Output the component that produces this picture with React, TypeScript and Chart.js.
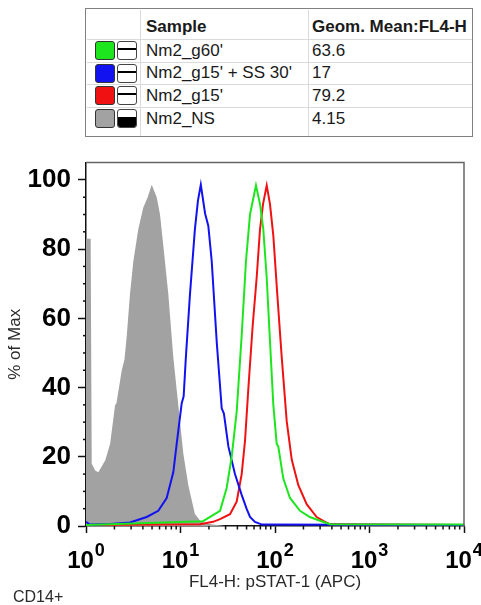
import React, { useEffect, useRef } from 'react';
import { Chart, registerables } from 'chart.js';

Chart.register(...registerables);

const FONT = "'Liberation Sans', Arial, Helvetica, sans-serif";

// ---- legend table data ----
const sampleNames = ["Nm2_g60'", "Nm2_g15' + SS 30'", "Nm2_g15'", 'Nm2_NS'];
const geomMeans = ['63.6', '17', '79.2', '4.15'];
const sampleColors = ['#1ee61e', '#1212f0', '#f01212', '#a2a2a2'];
const sampleFilled = [false, false, false, true];

// ---- axis ticks ----
const xMajorTicks = [1, 10, 100, 1000, 10000];
const yTickLabels = [0, 20, 40, 60, 80, 100];
const yMinorStep = 5;

// ---- histogram series (x = FL4-H intensity, y = % of max) ----
const g60X = [1, 17.3, 26.2, 30.8, 34.8, 39.3, 44.4, 49.3, 54.4, 62.9, 69.4, 75.2, 81.7, 88.5, 96.0, 104.2, 108.3, 122.4, 144.1, 184, 234, 299, 382, 10000];
const g60Y = [0.3, 1.4, 4.4, 11.0, 20, 33, 55, 76.5, 90, 98.4, 93, 85.7, 71.8, 53.4, 35, 23.8, 23, 13.7, 8.1, 4.4, 2.6, 1.5, 0.5, 0.4];

const ss30X = [1, 1.1, 1.8, 2.92, 4.39, 5.82, 7.14, 8.39, 9.12, 10.3, 10.8, 11.4, 12.6, 14.2, 15.3, 16.4, 18.2, 19.7, 21.4, 24.2, 27.3, 28.8, 32.1, 37.7, 44.4, 50.0, 54.4, 61.4, 72.8, 10000];
const ss30Y = [1.2, 0.4, 0.6, 1.0, 2.6, 4.4, 8.1, 15.5, 23.8, 35.5, 37.5, 48.8, 67, 85.7, 94, 98.6, 90.3, 86.7, 76.5, 53, 34, 32.5, 23, 15, 9, 5, 2.6, 1.2, 0.4, 0.3];

const g15X = [1, 16.1, 22.1, 26.2, 33.4, 39.3, 44.4, 48.2, 52.2, 58.1, 64.0, 69.4, 74.7, 81.7, 88.5, 96.0, 105.7, 117.8, 133, 150.3, 176.6, 216.3, 276, 324, 382, 10000];
const g15Y = [0.3, 0.5, 1.2, 2.0, 3.4, 7.0, 15.0, 24.7, 39.6, 58, 71.8, 85.7, 93, 98.4, 93, 83.9, 67, 48.8, 30.3, 19.2, 11.8, 6.3, 2.6, 1.5, 0.5, 0.3];

const nsX = [1, 1.12, 1.15, 1.25, 1.35, 1.6, 1.8, 2.03, 2.1, 2.39, 2.55, 2.7, 2.92, 3.17, 3.57, 4.04, 4.5, 4.96, 5.6, 6.07, 6.58, 7.43, 8.39, 9.48, 10.7, 12.1, 14.2, 16.1, 18, 22, 30, 10000];
const nsY = [83, 83, 18, 16, 15.5, 19, 23.8, 34.9, 35.5, 45, 48, 55, 67, 76.5, 85.7, 92, 95, 98.6, 95, 90, 81, 67, 48.8, 34.9, 21, 11.8, 3.5, 1.6, 0.8, 0.4, 0, 0];

const seriesX = [g60X, ss30X, g15X, nsX];
const seriesY = [g60Y, ss30Y, g15Y, nsY];

const decorPlugin = {
  id: 'decor',
  afterDraw(chart: any) {
    const { ctx, chartArea: a, scales } = chart;
    const xs = scales.x;
    const ys = scales.y;
    ctx.save();
    // top and right frame
    ctx.strokeStyle = '#666';
    ctx.lineWidth = 1.5;
    ctx.beginPath();
    ctx.moveTo(a.left, a.top);
    ctx.lineTo(a.right, a.top);
    ctx.lineTo(a.right, a.bottom);
    ctx.stroke();
    // minor x ticks
    ctx.strokeStyle = '#111';
    ctx.lineWidth = 1.5;
    xs.ticks.forEach((t: any) => {
      if (!t.major) {
        const px = xs.getPixelForValue(t.value);
        ctx.beginPath();
        ctx.moveTo(px, a.bottom);
        ctx.lineTo(px, a.bottom + 3.5);
        ctx.stroke();
      }
    });
    // minor y ticks
    const yMax = yTickLabels[yTickLabels.length - 1];
    for (let v = yTickLabels[0]; v <= yMax; v += yMinorStep) {
      if (yTickLabels.indexOf(v) >= 0) continue;
      const py = ys.getPixelForValue(v);
      ctx.beginPath();
      ctx.moveTo(a.left - 3, py);
      ctx.lineTo(a.left, py);
      ctx.stroke();
    }
    // x tick labels 10^n
    ctx.fillStyle = '#000';
    ctx.textBaseline = 'alphabetic';
    ctx.textAlign = 'left';
    xMajorTicks.forEach((v) => {
      const px = xs.getPixelForValue(v);
      const exp = String(Math.round(Math.log10(v)));
      ctx.font = `bold 24px ${FONT}`;
      const w1 = ctx.measureText('10').width;
      ctx.font = `bold 18px ${FONT}`;
      const w2 = ctx.measureText(exp).width;
      const x0 = px - (w1 + w2 + 1) / 2;
      const baseY = a.bottom + 42;
      ctx.font = `bold 24px ${FONT}`;
      ctx.fillText('10', x0, baseY);
      ctx.font = `bold 18px ${FONT}`;
      ctx.fillText(exp, x0 + w1 + 1, baseY - 12);
    });
    ctx.restore();
  },
};

function ChartCanvas() {
  const ref = useRef<HTMLCanvasElement | null>(null);
  useEffect(() => {
    if (!ref.current) return;
    Chart.defaults.font.family = FONT;
    const datasets = sampleNames.map((name, i) => ({
      label: name,
      data: seriesX[i].map((x, j) => ({ x, y: seriesY[i][j] })),
      borderColor: sampleFilled[i] ? sampleColors[i] : sampleColors[i],
      backgroundColor: sampleColors[i],
      borderWidth: sampleFilled[i] ? 0 : 2,
      fill: sampleFilled[i] ? 'origin' : false,
      pointRadius: 0,
      tension: 0,
    }));
    const chart = new Chart(ref.current, {
      type: 'line',
      data: { datasets },
      options: {
        animation: false,
        responsive: false,
        devicePixelRatio: 1,
        layout: { padding: { top: 7, right: 17, bottom: 0, left: 0 } },
        plugins: { legend: { display: false }, tooltip: { enabled: false } },
        scales: {
          x: {
            type: 'logarithmic',
            min: xMajorTicks[0],
            max: xMajorTicks[xMajorTicks.length - 1],
            afterBuildTicks: (scale: any) => {
              const ticks: any[] = [];
              xMajorTicks.forEach((d, i) => {
                ticks.push({ value: d, major: true });
                if (i < xMajorTicks.length - 1) {
                  for (let m = 2; m <= 9; m++) ticks.push({ value: m * d, major: false });
                }
              });
              scale.ticks = ticks;
            },
            afterFit: (scale: any) => {
              scale.height = 79;
            },
            ticks: { display: false },
            grid: {
              display: true,
              drawOnChartArea: false,
              drawTicks: true,
              tickLength: 7,
              tickWidth: 1.5,
              tickColor: (c: any) => (c.tick && c.tick.major ? '#111' : 'rgba(0,0,0,0)'),
            },
            border: { display: true, color: '#111', width: 1.5 },
            title: {
              display: true,
              text: 'FL4-H: pSTAT-1 (APC)',
              color: '#2a2a2a',
              font: { size: 17, family: FONT },
              padding: { top: 0, bottom: 12 },
            },
          },
          y: {
            type: 'linear',
            min: 0,
            max: 105,
            afterBuildTicks: (scale: any) => {
              scale.ticks = yTickLabels.map((v) => ({ value: v }));
            },
            afterFit: (scale: any) => {
              scale.width = 86;
            },
            ticks: {
              autoSkip: false,
              color: '#000',
              font: { size: 26, weight: 'bold', family: FONT },
              padding: 7,
              callback: (v: any) => String(v),
            },
            grid: {
              display: true,
              drawOnChartArea: false,
              drawTicks: true,
              tickLength: 8,
              tickWidth: 1.5,
              tickColor: '#111',
            },
            border: { display: true, color: '#111', width: 1.5 },
            title: {
              display: true,
              text: '% of Max',
              color: '#2a2a2a',
              font: { size: 17, family: FONT },
              padding: { top: 5, bottom: 0 },
            },
          },
        },
      } as any,
      plugins: [decorPlugin],
    });
    return () => chart.destroy();
  }, []);
  return (
    <canvas
      ref={ref}
      width={481}
      height={465}
      style={{ position: 'absolute', left: 0, top: 140, width: 481, height: 465 }}
    />
  );
}

export default function App() {
  const rowTop0 = 39;
  const rowH = 22.7;
  const textStyle: React.CSSProperties = {
    position: 'absolute',
    fontFamily: FONT,
    fontSize: 17,
    color: '#1a1a1a',
    whiteSpace: 'nowrap',
    height: 22,
    lineHeight: '22px',
  };
  return (
    <div
      style={{
        position: 'absolute',
        left: 0,
        top: 0,
        width: 481,
        height: 605,
        overflow: 'hidden',
        background: '#fff',
      }}
    >
      {/* legend table */}
      <div
        style={{
          position: 'absolute',
          left: 85,
          top: 8,
          width: 388,
          height: 129,
          border: '1.5px solid #808080',
          boxSizing: 'border-box',
        }}
      />
      <div style={{ position: 'absolute', left: 140, top: 9.5, width: 1, height: 126, background: '#dadada' }} />
      <div style={{ position: 'absolute', left: 308, top: 9.5, width: 1, height: 126, background: '#dadada' }} />
      {sampleNames.map((_, i) => (
        <div
          key={'hl' + i}
          style={{ position: 'absolute', left: 86.5, top: rowTop0 + rowH * i, width: 385, height: 1, background: '#dadada' }}
        />
      ))}
      <div style={{ ...textStyle, left: 146, top: 16, fontWeight: 'bold' }}>Sample</div>
      <div style={{ ...textStyle, left: 312, top: 16, fontWeight: 'bold' }}>Geom. Mean:FL4-H</div>
      {sampleNames.map((name, i) => {
        const c = rowTop0 + rowH * i + 11.5;
        return (
          <React.Fragment key={name}>
            <div
              style={{
                position: 'absolute',
                left: 95,
                top: c - 9.5,
                width: 20,
                height: 19,
                background: sampleColors[i],
                border: '1px solid #333',
                borderRadius: 3,
                boxSizing: 'border-box',
              }}
            />
            <div
              style={{
                position: 'absolute',
                left: 117,
                top: c - 9.5,
                width: 20,
                height: 19,
                background: '#fff',
                border: '1.5px solid #444',
                borderRadius: 3,
                boxSizing: 'border-box',
                overflow: 'hidden',
              }}
            >
              {sampleFilled[i] ? (
                <div style={{ position: 'absolute', left: 0, right: 0, top: 7, bottom: 0, background: '#000' }} />
              ) : (
                <div style={{ position: 'absolute', left: 0, right: 0, top: 6, height: 2, background: '#000' }} />
              )}
            </div>
            <div style={{ ...textStyle, left: 146, top: c - 11 }}>{name}</div>
            <div style={{ ...textStyle, left: 312, top: c - 11 }}>{geomMeans[i]}</div>
          </React.Fragment>
        );
      })}
      <ChartCanvas />
      <div
        style={{
          position: 'absolute',
          left: 13,
          top: 588,
          fontFamily: FONT,
          fontSize: 16,
          lineHeight: '18px',
          color: '#2a2a2a',
        }}
      >
        CD14+
      </div>
    </div>
  );
}
